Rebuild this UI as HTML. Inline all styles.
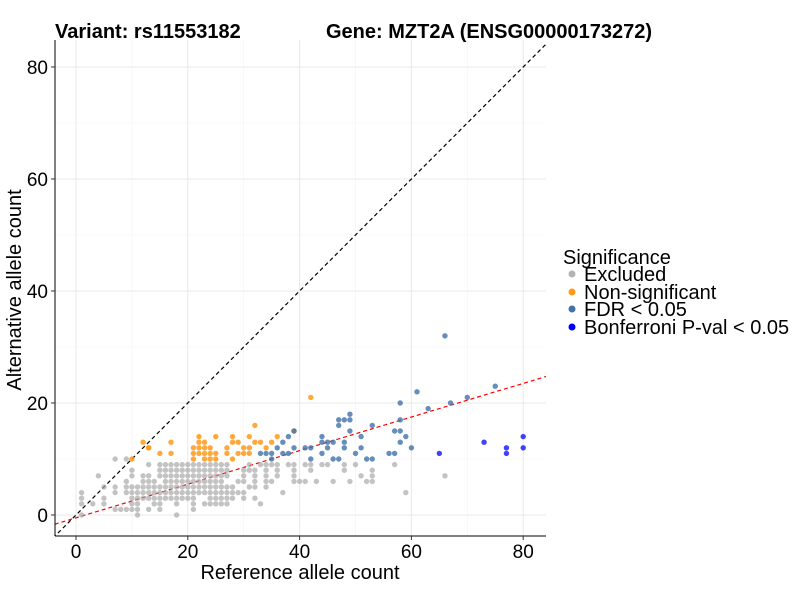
<!DOCTYPE html>
<html><head><meta charset="utf-8"><style>
body{margin:0;background:#fff;font-family:"Liberation Sans",Arial,sans-serif;}
text{font-family:"Liberation Sans",Arial,sans-serif;}
</style></head><body>
<svg id="chart" width="800" height="600" viewBox="0 0 800 600" xmlns="http://www.w3.org/2000/svg">
<defs><clipPath id="clip"><rect x="55" y="40" width="491" height="496"/></clipPath></defs>
<g id="grid"></g>
<g id="lines" clip-path="url(#clip)"></g>
<g id="points" clip-path="url(#clip)"></g>
<line x1="55" y1="40" x2="55" y2="536" stroke="#000" stroke-width="1"/>
<line x1="55" y1="536" x2="546" y2="536" stroke="#000" stroke-width="1"/>
<g id="ticks"></g>
<text x="55" y="38" font-size="20" font-weight="bold">Variant: rs11553182</text>
<text x="326" y="38" font-size="20" font-weight="bold">Gene: MZT2A (ENSG00000173272)</text>
<text x="300" y="579" font-size="20" text-anchor="middle">Reference allele count</text>
<text transform="translate(21,290) rotate(-90)" font-size="20" text-anchor="middle">Alternative allele count</text>
<g>
<text x="563" y="264" font-size="20">Significance</text>
<circle cx="572" cy="274" r="3.5" fill="#b3b3b3"/>
<text x="584" y="281" font-size="20">Excluded</text>
<circle cx="572" cy="292" r="3.5" fill="#ff9a1a"/>
<text x="584" y="299" font-size="20">Non-significant</text>
<circle cx="572" cy="309" r="3.5" fill="#3f72aa"/>
<text x="584" y="316" font-size="20">FDR &lt; 0.05</text>
<circle cx="572" cy="327" r="3.5" fill="#0000ff"/>
<text x="584" y="334" font-size="20">Bonferroni P-val &lt; 0.05</text>
</g>
</svg>
<script>
const xTicks=[0,20,40,60,80];
const yTicks=[0,20,40,60,80];
const minorTicks=[10,30,50,70];
const grayPts=[[7,10],[9,10],[13,9],[15,9],[16,9],[17,9],[18,9],[19,9],[20,9],[21,9],[22,9],[23,9],[24,9],[25,9],[26,9],[27,9],[31,9],[33,9],[34,9],[35,9],[36,9],[38,9],[39,9],[41,9],[42,9],[44,9],[45,9],[48,9],[50,9],[57,9],
[10,8],[15,8],[16,8],[17,8],[18,8],[19,8],[20,8],[21,8],[22,8],[23,8],[24,8],[25,8],[26,8],[27,8],[30,8],[31,8],[32,8],[34,8],[36,8],[39,8],[42,8],[48,8],[53,8],
[4,7],[10,7],[12,7],[13,7],[15,7],[16,7],[17,7],[18,7],[19,7],[20,7],[21,7],[22,7],[23,7],[24,7],[25,7],[26,7],[27,7],[30,7],[32,7],[34,7],[36,7],[39,7],[51,7],[53,7],[66,7],
[9,6],[12,6],[13,6],[14,6],[16,6],[17,6],[18,6],[19,6],[20,6],[21,6],[22,6],[23,6],[24,6],[25,6],[26,6],[29,6],[30,6],[32,6],[34,6],[35,6],[39,6],[40,6],[41,6],[43,6],[46,6],[49,6],[52,6],[53,6],
[5,5],[7,5],[9,5],[10,5],[11,5],[12,5],[13,5],[14,5],[15,5],[16,5],[17,5],[18,5],[19,5],[20,5],[21,5],[22,5],[23,5],[24,5],[25,5],[26,5],[27,5],[28,5],[31,5],[32,5],[34,5],
[1,4],[7,4],[9,4],[10,4],[11,4],[12,4],[13,4],[14,4],[15,4],[16,4],[17,4],[18,4],[19,4],[20,4],[21,4],[22,4],[23,4],[24,4],[25,4],[26,4],[27,4],[28,4],[29,4],[30,4],[37,4],[59,4],
[1,3],[5,3],[10,3],[11,3],[12,3],[13,3],[14,3],[15,3],[16,3],[17,3],[18,3],[19,3],[20,3],[21,3],[24,3],[25,3],[26,3],[27,3],[28,3],[30,3],[32,3],
[1,2],[3,2],[5,2],[10,2],[11,2],[14,2],[15,2],[18,2],[21,2],[23,2],[24,2],[25,2],[26,2],[27,2],[33,2],
[7,1],[8,1],[9,1],[10,1],[11,1],[13,1],[15,1],[21,1],[1,0],[11,0],[18,0]];
const orangePts=[[32,16],[12,13],[13,12],[17,13],[10,10],[42,21],[22,14],[25,14],[28,14],[31,14],[36,14],
[22,13],[23,13],[28,13],[29,13],[32,13],[33,13],[35,13],[13,12],[21,12],[22,12],[23,12],[24,12],[27,12],[30,12],[31,12],[34,12],
[15,11],[17,11],[21,11],[22,11],[23,11],[24,11],[25,11],[27,11],[29,11],[30,11],[31,11],[21,10],[23,10],[24,10],[25,10],[28,10],[39,15]];
const fdrPts=[[66,32],[61,22],[75,23],[70,21],[67,20],[58,20],[63,19],[49,18],[47,17],[48,17],[49,17],[47,16],[53,16],[58,17],
[39,15],[49,15],[57,15],[58,15],[44,14],[51,14],[59,14],[38,14],[44,13],[45,13],[46,13],[48,13],[58,13],[37,13],
[39,12],[41,12],[42,12],[45,12],[48,12],[51,12],[60,12],[36,12],[38,11],[44,11],[50,11],[56,11],[57,11],[33,11],[34,11],[35,11],[37,11],
[42,10],[46,10],[47,10],[52,10],[53,10],[35,10]];
const bonfPts=[[73,13],[77,12],[77,11],[80,14],[80,12],[65,11]];
const refLine=[0.3,-0.5];
const NS="http://www.w3.org/2000/svg";
const X=v=>76+(v)*5.59, Y=v=>515-v*5.6;
function mk(t,a,p){const e=document.createElementNS(NS,t);for(const k in a)e.setAttribute(k,a[k]);p.appendChild(e);return e;}
const grid=document.getElementById('grid'),ticks=document.getElementById('ticks');
minorTicks.forEach(v=>{
 const a=mk('line',{x1:X(v),x2:X(v),y1:40,y2:536,stroke:'#f2f2f2','stroke-width':0.6},grid);
 
 
 const b=mk('line',{x1:55,x2:546,y1:Y(v),y2:Y(v),stroke:'#f2f2f2','stroke-width':0.6},grid);
 
 
});
xTicks.forEach(v=>{
 const g=mk('line',{x1:X(v),x2:X(v),y1:40,y2:536,stroke:'#e8e8e8','stroke-width':1},grid);
 
 
 mk('line',{x1:X(v),x2:X(v),y1:536,y2:540,stroke:'#333'},ticks);
 const t=mk('text',{x:X(v),y:558,'font-size':19,'text-anchor':'middle'},ticks);t.textContent=v;
 
 
});
yTicks.forEach(v=>{
 const g=mk('line',{x1:55,x2:546,y1:Y(v),y2:Y(v),stroke:'#e8e8e8','stroke-width':1},grid);
 
 
 mk('line',{x1:51,x2:55,y1:Y(v),y2:Y(v),stroke:'#333'},ticks);
 const t=mk('text',{x:48,y:Y(v)+7,'font-size':19,'text-anchor':'end'},ticks);t.textContent=v;
 
 
});
const lines=document.getElementById('lines');
const d1=mk('line',{x1:X(-5),y1:Y(-5),x2:X(90),y2:Y(90),stroke:'#000','stroke-width':1.2,'stroke-dasharray':'4 3'},lines);


const pts=document.getElementById('points');
function draw(arr,col,op,name){arr.forEach(p=>{
 const c=mk('circle',{cx:X(p[0]),cy:Y(p[1]),r:2.7,fill:col,'fill-opacity':op},pts);
 
 
});}
draw(grayPts,'#aaaaaa',0.7,'point-excluded');
draw(orangePts,'#ff9a1a',0.85,'point-nonsignificant');
draw(fdrPts,'#3f72aa',0.8,'point-fdr');
draw(bonfPts,'#0000ff',0.75,'point-bonferroni');
const d2=mk('line',{x1:X(-5),y1:Y(refLine[0]*-5+refLine[1]),x2:X(90),y2:Y(refLine[0]*90+refLine[1]),stroke:'#ff0000','stroke-width':1.2,'stroke-dasharray':'4 3'},lines);


</script>
</body></html>
